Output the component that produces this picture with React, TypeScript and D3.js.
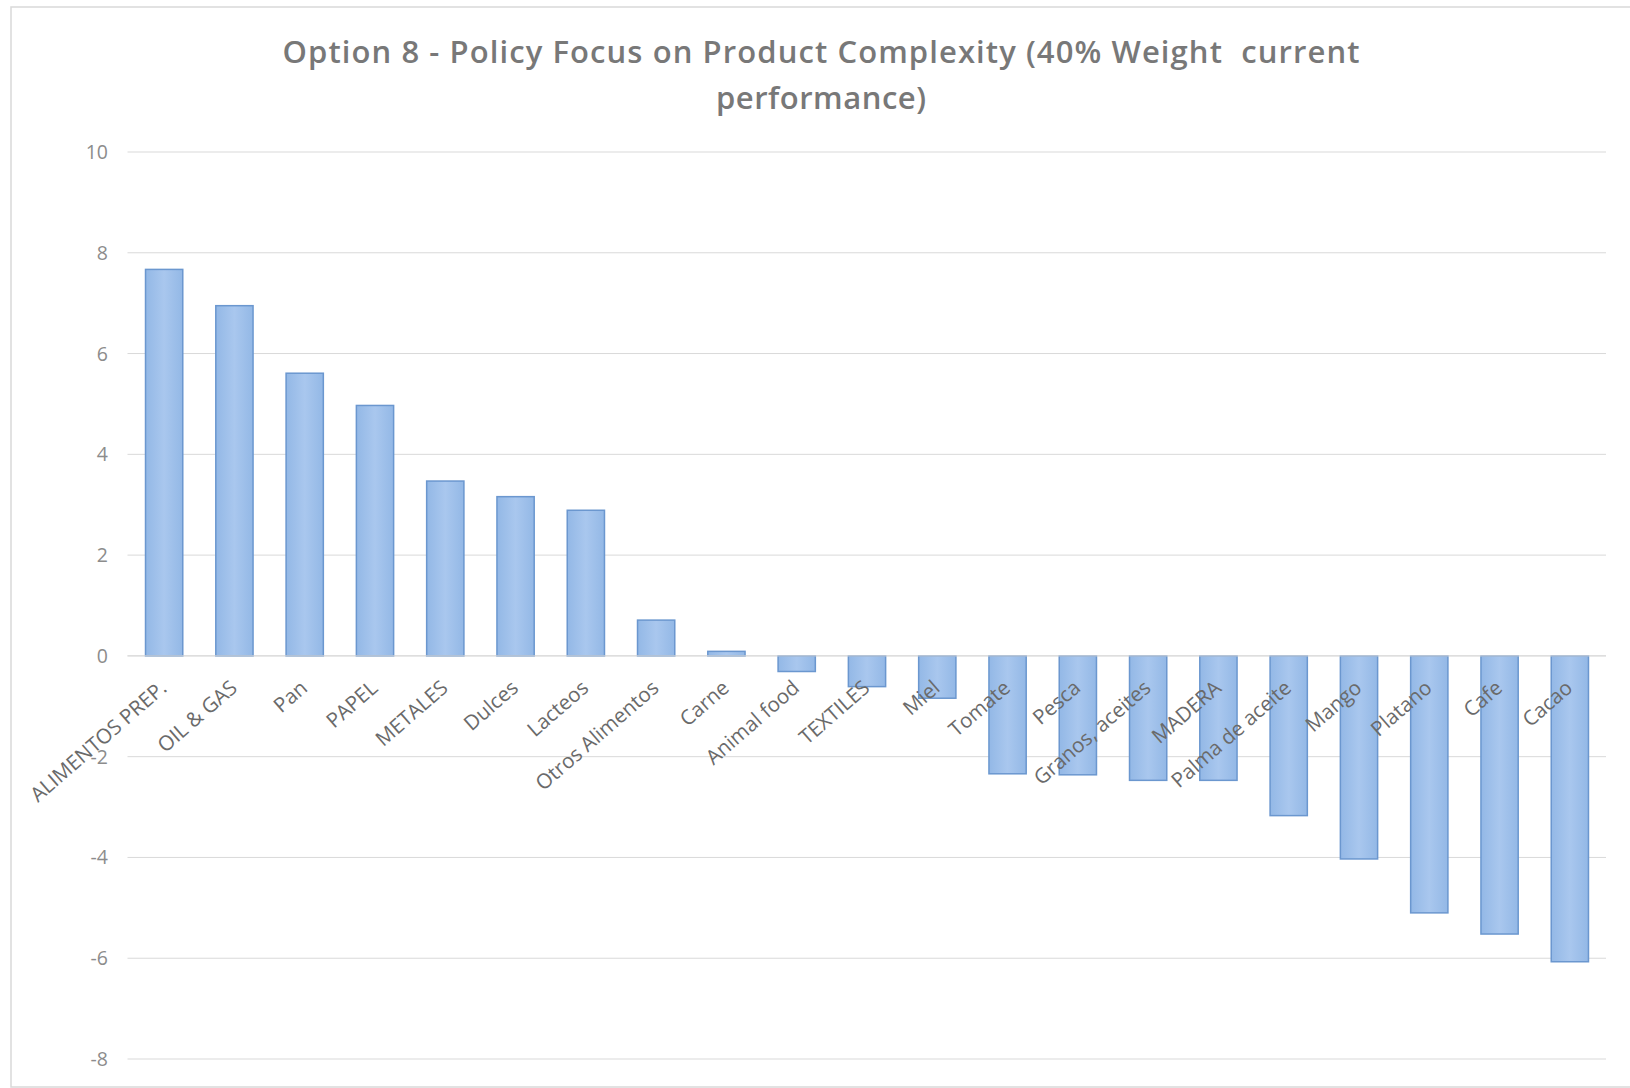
import React from "react";
import * as d3 from "d3";

const categories = [
  "ALIMENTOS PREP.", "OIL & GAS", "Pan", "PAPEL", "METALES", "Dulces", "Lacteos",
  "Otros Alimentos", "Carne", "Animal food", "TEXTILES", "Miel", "Tomate", "Pesca",
  "Granos, aceites", "MADERA", "Palma de aceite", "Mango", "Platano", "Cafe", "Cacao",
];
const values = [
  7.67, 6.95, 5.61, 4.97, 3.47, 3.16, 2.89, 0.71, 0.09, -0.31, -0.61, -0.84, -2.34,
  -2.36, -2.47, -2.47, -3.17, -4.03, -5.10, -5.52, -6.07,
];
const yTicks = [10, 8, 6, 4, 2, 0, -2, -4, -6, -8];
const titleLines = [
  "Option 8 - Policy Focus on Product Complexity (40% Weight  current",
  "performance)",
];
const titleWidths = [1077, 210];

const W = 1630;
const H = 1088;
const plotLeft = 129;
const plotRight = 1605;
const gridLeft = 127.5;
const gridRight = 1606;
const yTop = 152;
const yBottom = 1059;

export default function App() {
  const x = d3.scaleBand<string>().domain(categories).range([plotLeft, plotRight]).paddingInner(0.47).paddingOuter(0.235);
  const y = d3.scaleLinear().domain([-8, 10]).range([yBottom, yTop]);
  const y0 = y(0);
  const font = "'Open Sans', 'Liberation Sans', sans-serif";
  return (
    <svg
      width={W}
      height={H}
      style={{ position: "absolute", left: 0, top: 0, background: "#fff" }}
      fontFamily={font}
    >
      <defs>
        <linearGradient id="barGrad" x1="0" y1="0" x2="1" y2="0">
          <stop offset="0%" stopColor="#93b8e6" />
          <stop offset="50%" stopColor="#a9c7ee" />
          <stop offset="100%" stopColor="#93b8e6" />
        </linearGradient>
      </defs>
      <rect x={11} y={7} width={W} height={1080} fill="#fff" stroke="#d9d9d9" strokeWidth={1.5} />
      {titleLines.map((t, i) => (
        <text
          key={i}
          x={821}
          y={63 + i * 46}
          textAnchor="middle"
          fontSize={31}
          fontWeight={600}
          fill="#787878"
          textLength={titleWidths[i]}
          lengthAdjust="spacing"
          style={{ whiteSpace: "pre" }}
        >
          {t}
        </text>
      ))}
      {yTicks.map((t) => (
        <g key={t}>
          <line x1={gridLeft} x2={gridRight} y1={y(t)} y2={y(t)} stroke="#d9d9d9" strokeWidth={1} />
          <text x={108} y={y(t)} dy="0.36em" textAnchor="end" fontSize={19.5} fill="#8c8c8c">
            {t}
          </text>
        </g>
      ))}
      {categories.map((c, i) => {
        const v = values[i];
        const bx = x(c) as number;
        return (
          <rect
            key={c}
            x={bx}
            y={Math.min(y(v), y0)}
            width={x.bandwidth()}
            height={Math.abs(y(v) - y0)}
            fill="url(#barGrad)"
            stroke="#6b97cf"
            strokeWidth={1.5}
          />
        );
      })}
      <line x1={gridLeft} x2={gridRight} y1={y0} y2={y0} stroke="#d9d9d9" strokeWidth={1} />
      {categories.map((c) => {
        const cx = (x(c) as number) + x.bandwidth() / 2;
        return (
          <text
            key={c}
            transform={`translate(${cx + 4},${y0 + 34}) rotate(-41)`}
            textAnchor="end"
            fontSize={20.5}
            fill="#6a6a6a"
          >
            {c}
          </text>
        );
      })}
    </svg>
  );
}
